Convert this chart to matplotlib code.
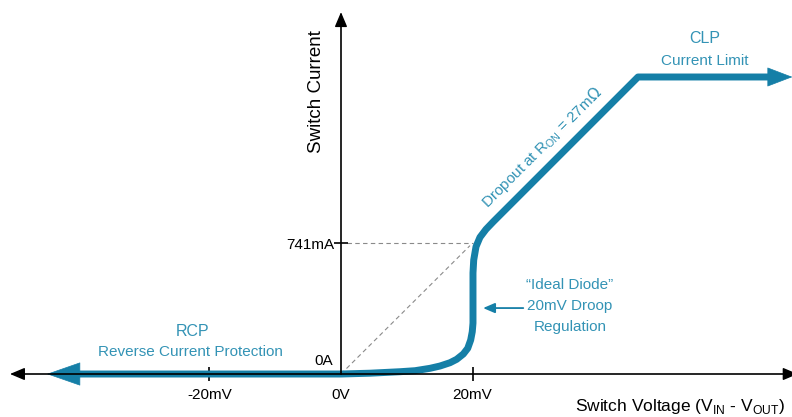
import matplotlib
matplotlib.use("Agg")
import matplotlib.pyplot as plt

# ---------------------------------------------------------------------------
# Data (switch voltage in mV, switch current in mA)
# ---------------------------------------------------------------------------
V_CURVE = [-39.8, 0.0, 4.4, 9.0, 11.25, 13.53, 15.05, 16.57, 17.58, 18.59, 19.26, 19.71,
           19.95, 20.06, 20.06, 20.06, 20.17, 20.52, 21.12, 22.04, 23.15, 45.14, 64.9]
I_CURVE = [0, 0, 4.5, 13, 18.7, 32.2, 45.2, 63.9, 83.1, 113.1, 145.3, 192.3,
           239.2, 288.2, 418.6, 571.3, 644.8, 720.3, 773.3, 818.5, 861.6, 1680, 1680]
V_ARROW_LEFT = -44.7
V_ARROW_RIGHT = 68.6

X_TICKS = [-20, 0, 20]
X_TICK_LABELS = ["-20mV", "0V", "20mV"]
Y_TICKS = [741]
Y_TICK_LABELS = ["741mA"]

V_DROOP = 20        # mV
I_DROOP = 741       # mA  (20mV / 27mOhm)

TEAL = "#157FA7"
TEAL_TEXT = "#3393B5"
FONT = ["Liberation Sans", "DejaVu Sans"]

plt.rcParams["font.family"] = FONT

fig = plt.figure(figsize=(7.92, 4.17), dpi=100)
ax = fig.add_axes([0, 0, 1, 1])
ax.set_xlim(-51.82, 68.54)
ax.set_ylim(-243.2, 2115.5)

# axes through the origin
for side in ("top", "right"):
    ax.spines[side].set_visible(False)
ax.spines["left"].set_position(("data", 0))
ax.spines["bottom"].set_position(("data", 0))
ax.spines["left"].set_bounds(0, 2030)
ax.spines["bottom"].set_bounds(-49.5, 69)
for side in ("left", "bottom"):
    ax.spines[side].set_linewidth(1.2)
    ax.spines[side].set_color("black")
    ax.spines[side].set_zorder(4)

ax.set_xticks(X_TICKS)
ax.set_xticklabels(X_TICK_LABELS)
ax.set_yticks(Y_TICKS)
ax.set_yticklabels(Y_TICK_LABELS)
ax.tick_params(axis="both", direction="inout", length=10, width=1.2, color="black")
ax.tick_params(axis="x", pad=5, labelsize=11)
ax.tick_params(axis="y", pad=0, labelsize=11)
ax.xaxis.get_major_ticks()[1].tick1line.set_visible(False)

# axis arrow heads
head = dict(arrowstyle="-|>,head_length=9,head_width=3.8", mutation_scale=1,
            color="black", lw=1, shrinkA=0, shrinkB=0)
ax.annotate("", xy=(-50.3, 0), xytext=(-48.3, 0), arrowprops=head, zorder=5)
ax.annotate("", xy=(69.4, 0), xytext=(67.4, 0), annotation_clip=False, arrowprops=head, zorder=5)
ax.annotate("", xy=(0, 2047), xytext=(0, 1980), arrowprops=head, zorder=5)

# dashed guides
ax.plot([0.9, V_DROOP], [I_DROOP, I_DROOP], color="#8a8a8a", lw=0.8, dashes=(4, 3), zorder=1)
ax.plot([0, V_DROOP * 0.98], [0, I_DROOP * 0.98], color="#8a8a8a", lw=0.8, dashes=(4, 3), zorder=1)

# characteristic curve
ax.plot(V_CURVE, I_CURVE, color=TEAL, lw=5, solid_joinstyle="round",
        solid_capstyle="butt", zorder=3)
ax.annotate("", xy=(V_ARROW_LEFT, I_CURVE[0]), xytext=(V_CURVE[0], I_CURVE[0]),
            arrowprops=dict(arrowstyle="-|>,head_length=23,head_width=8", mutation_scale=1,
                            color=TEAL, lw=0.5, shrinkA=0, shrinkB=0), zorder=3)
ax.annotate("", xy=(V_ARROW_RIGHT, I_CURVE[-1]), xytext=(V_CURVE[-1], I_CURVE[-1]),
            arrowprops=dict(arrowstyle="-|>,head_length=17,head_width=6.5", mutation_scale=1,
                            color=TEAL, lw=0.5, shrinkA=0, shrinkB=0), zorder=3)

# labels
ax.text(-3.65, 1595, "Switch Current", rotation=90, ha="center", va="center", fontsize=13.5)
ax.text(-1.2, 73, "0A", ha="right", va="center", fontsize=11)
ax.text(35.6, -181, r"Switch Voltage (V$_{\mathregular{IN}}$ - V$_{\mathregular{OUT}}$)",
        ha="left", va="center", fontsize=12.5)

ax.text(-22.5, 243, "RCP", ha="center", va="center", fontsize=11.5, color=TEAL_TEXT)
ax.text(-22.9, 124, "Reverse Current Protection", ha="center", va="center", fontsize=11,
        color=TEAL_TEXT)
ax.text(55.3, 1900, "CLP", ha="center", va="center", fontsize=11.5, color=TEAL_TEXT)
ax.text(55.3, 1770, "Current Limit", ha="center", va="center", fontsize=11, color=TEAL_TEXT)
ax.text(30.5, 1278, r"Dropout at R$_{\mathregular{ON}}$ = 27m$\Omega$", rotation=45,
        rotation_mode="anchor", ha="center", va="center", fontsize=11, color=TEAL_TEXT)
ax.text(34.8, 385, "\u201cIdeal Diode\u201d\n20mV Droop\nRegulation", ha="center", va="center",
        fontsize=11, color=TEAL_TEXT, linespacing=1.65)
ax.annotate("", xy=(21.6, 373), xytext=(27.7, 373),
            arrowprops=dict(arrowstyle="-|>,head_length=7,head_width=3", mutation_scale=1,
                            color=TEAL, lw=1.3, shrinkA=0, shrinkB=0))

fig.savefig("out.png", dpi=100)
